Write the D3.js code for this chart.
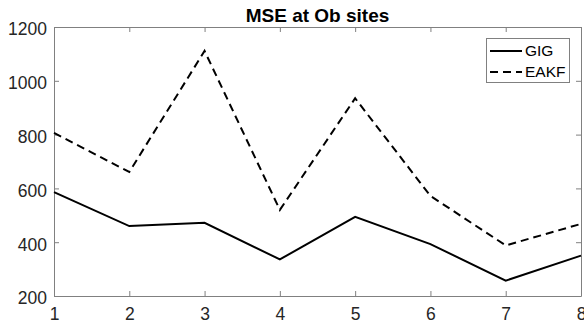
<!DOCTYPE html>
<html>
<head>
<meta charset="utf-8">
<script src="https://cdn.jsdelivr.net/npm/d3@7"></script>
<style>
  body { margin: 0; background: #fff; }
  text { font-family: Arial, "Liberation Sans", sans-serif; }
</style>
</head>
<body>
<div id="chart"></div>
<script>
var w = 584;
var h = 325;

var sites = [1, 2, 3, 4, 5, 6, 7, 8];
var gig = [586, 460, 472, 336, 494, 393, 257, 350];
var eakf = [806, 661, 1111, 520, 935, 572, 388, 468];
var yTicks = [200, 400, 600, 800, 1000, 1200];

var margin = { top: 27, right: 3, bottom: 29, left: 54 };

var svg = d3.select('#chart')
  .append('svg')
  .attr('width', w)
  .attr('height', h);

var x = d3.scaleLinear().domain([1, 8]).range([margin.left, w - margin.right]);
var y = d3.scaleLinear().domain([200, 1200]).range([h - margin.bottom, margin.top]);

var axisColor = '#808080';
var textColor = '#262626';
var fmt = d3.format('d');

// axes with inward ticks, box on
var xAxis = svg.append('g')
  .attr('transform', 'translate(0,' + y(200) + ')')
  .call(d3.axisBottom(x).tickValues(sites).tickFormat(fmt).tickSizeInner(-5).tickSizeOuter(0).tickPadding(12));
var yAxis = svg.append('g')
  .attr('transform', 'translate(' + x(1) + ',0)')
  .call(d3.axisLeft(y).tickValues(yTicks).tickFormat(fmt).tickSizeInner(-5).tickSizeOuter(0).tickPadding(7));
var xTop = svg.append('g')
  .attr('transform', 'translate(0,' + y(1200) + ')')
  .call(d3.axisTop(x).tickValues(sites).tickSizeInner(-5).tickSizeOuter(0).tickFormat(''));
var yRight = svg.append('g')
  .attr('transform', 'translate(' + x(8) + ',0)')
  .call(d3.axisRight(y).tickValues(yTicks).tickSizeInner(-5).tickSizeOuter(0).tickFormat(''));

[xAxis, yAxis, xTop, yRight].forEach(function (g) {
  g.selectAll('path, line').attr('stroke', axisColor);
  g.selectAll('text')
    .attr('fill', textColor)
    .style('font-size', '17.5px');
});
yAxis.selectAll('text').attr('dy', '0.45em');

var line = d3.line()
  .x(function (d, i) { return x(sites[i]); })
  .y(function (d) { return y(d); });

svg.append('path')
  .datum(eakf)
  .attr('d', line)
  .attr('fill', 'none')
  .attr('stroke', '#000')
  .attr('stroke-width', 2)
  .attr('stroke-dasharray', '8,5');

svg.append('path')
  .datum(gig)
  .attr('d', line)
  .attr('fill', 'none')
  .attr('stroke', '#000')
  .attr('stroke-width', 2);

svg.append('text')
  .attr('x', (x(1) + x(8)) / 2)
  .attr('y', 22)
  .attr('text-anchor', 'middle')
  .style('font-size', '19px')
  .style('font-weight', 'bold')
  .attr('fill', '#000')
  .text('MSE at Ob sites');

// legend
var legend = svg.append('g');
legend.append('rect')
  .attr('x', 486.5)
  .attr('y', 38.5)
  .attr('width', 83)
  .attr('height', 44)
  .attr('fill', '#fff')
  .attr('stroke', axisColor);

var entries = [{ label: 'GIG', dash: null }, { label: 'EAKF', dash: '8,5' }];
entries.forEach(function (e, i) {
  var cy = 51 + i * 21;
  legend.append('line')
    .attr('x1', 490).attr('x2', 522)
    .attr('y1', cy).attr('y2', cy)
    .attr('stroke', '#000')
    .attr('stroke-width', 2)
    .attr('stroke-dasharray', e.dash);
  legend.append('text')
    .attr('x', 525)
    .attr('y', cy)
    .attr('dy', '0.35em')
    .attr('fill', '#000')
    .style('font-size', '15.5px')
    .text(e.label);
});
</script>
</body>
</html>
